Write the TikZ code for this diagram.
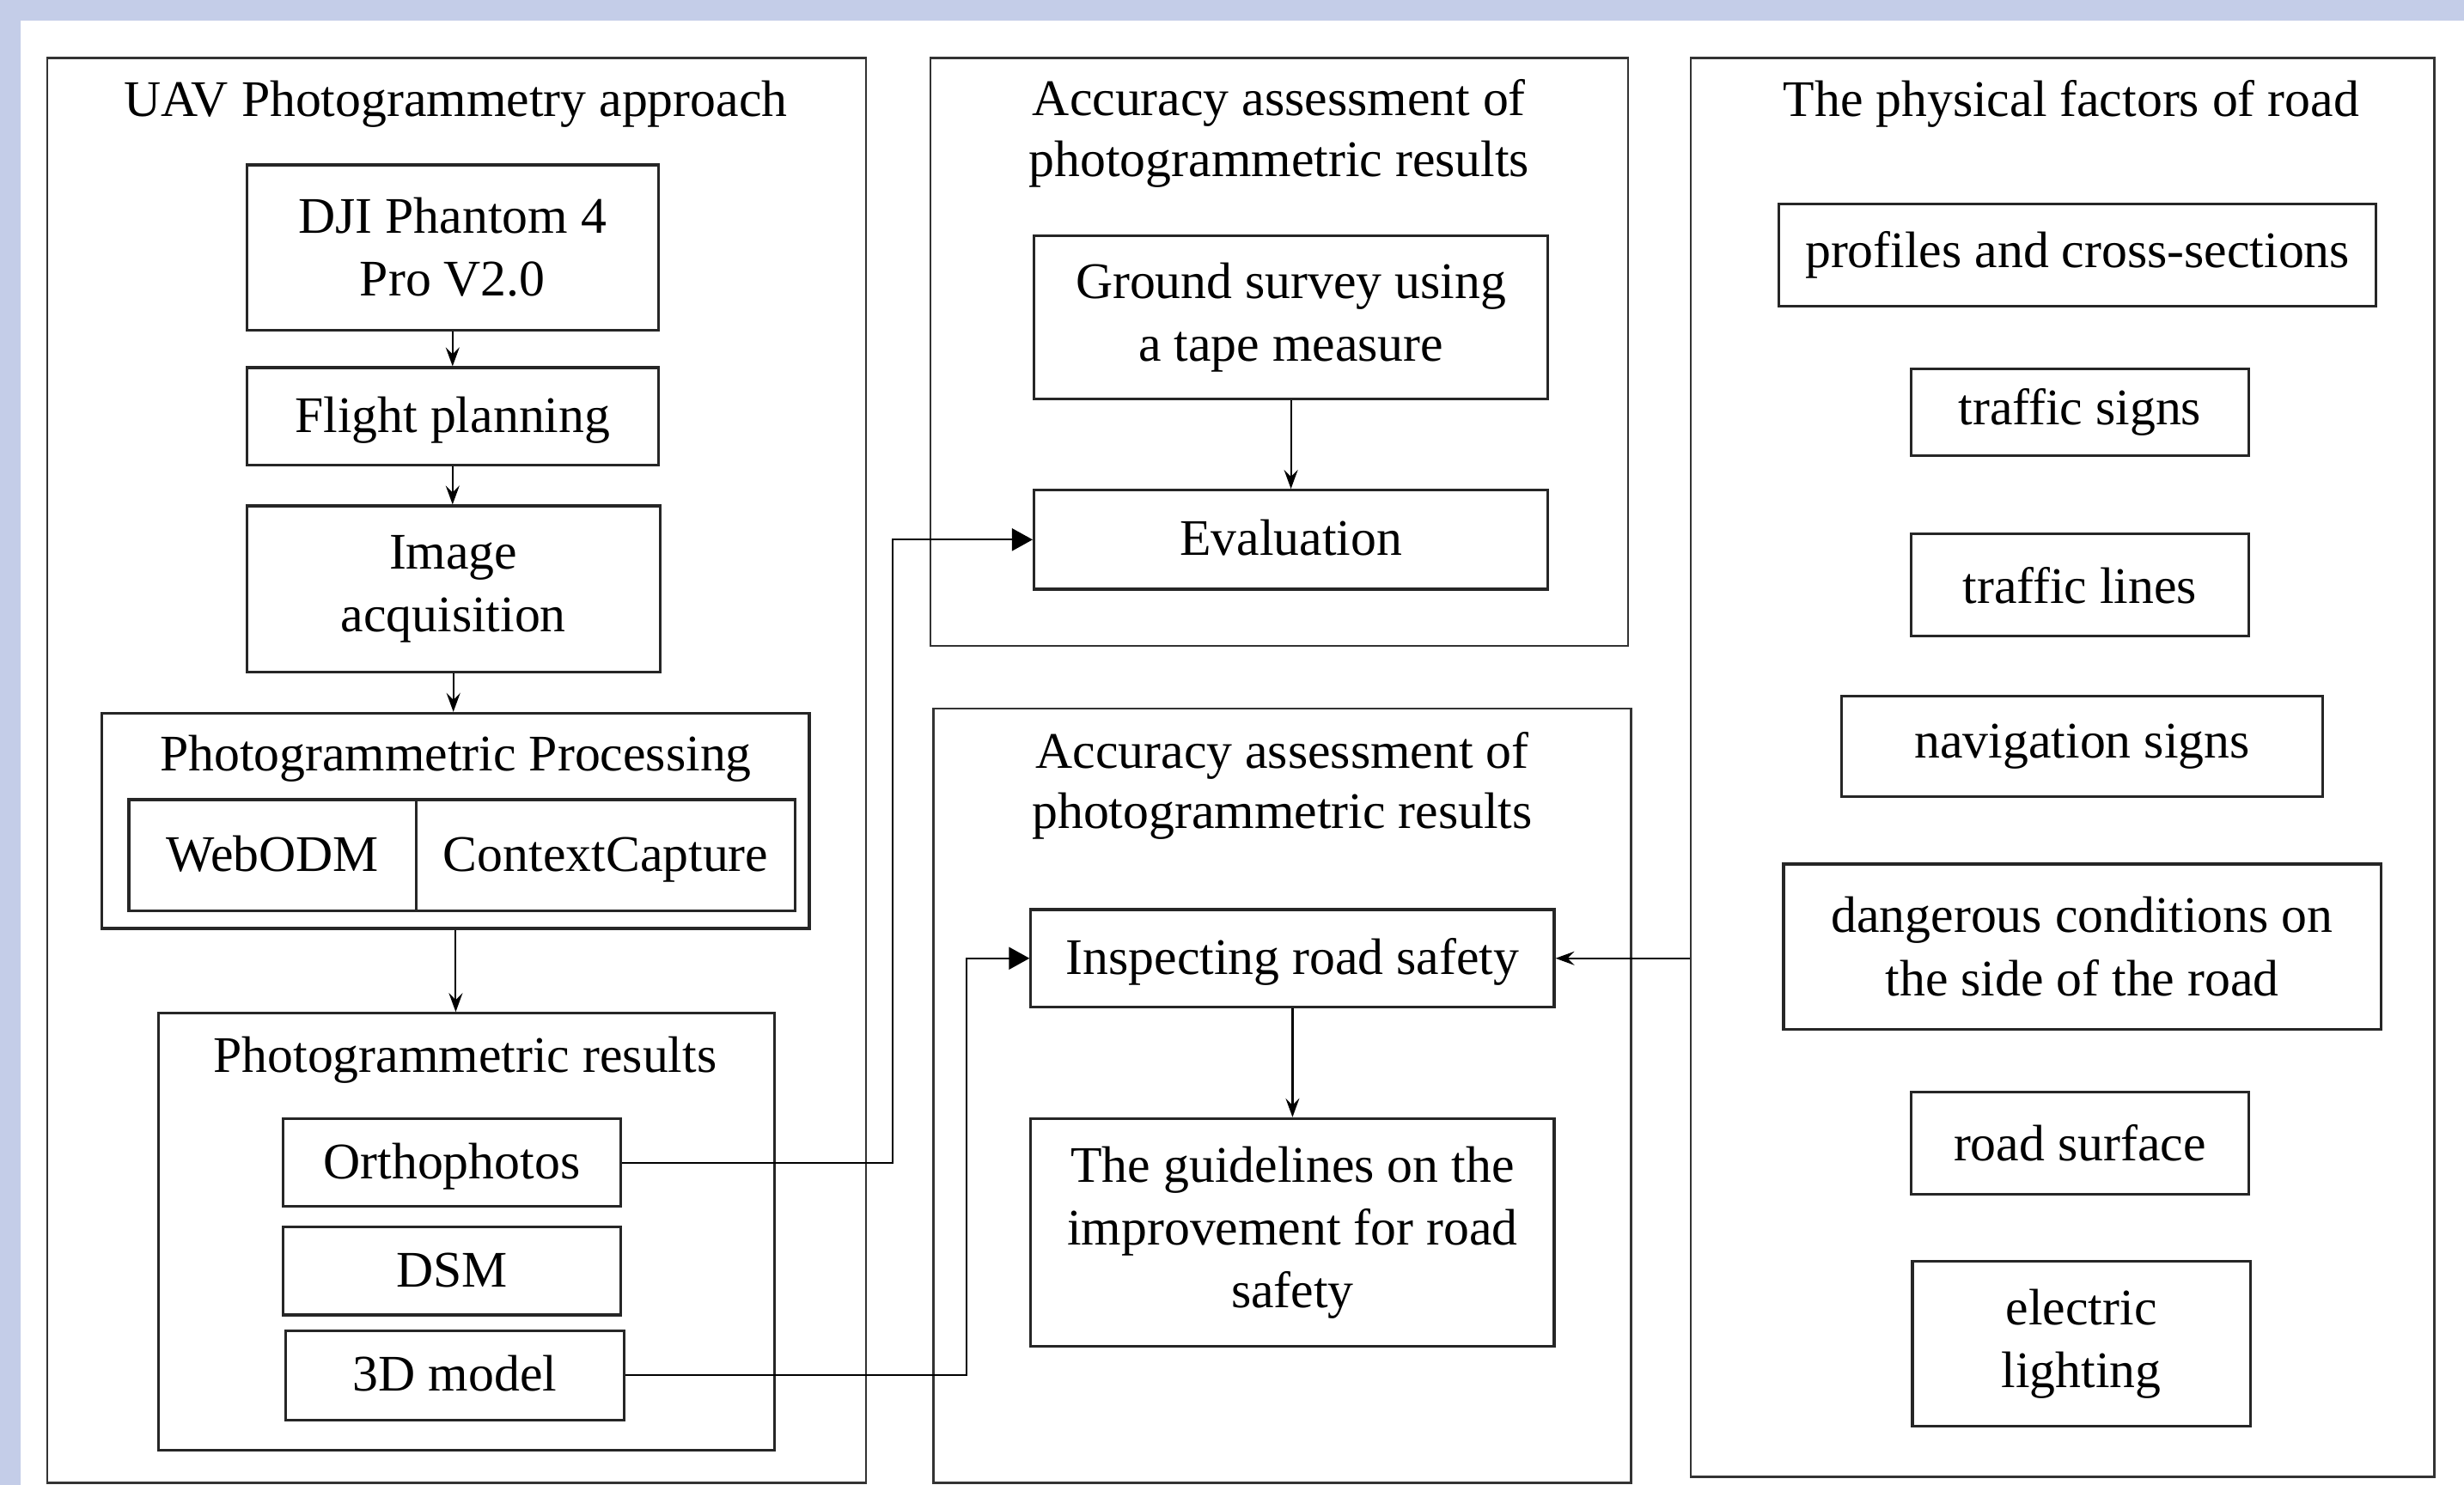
\documentclass[tikz,border=0pt]{standalone}
\usepackage{fontspec}
\setmainfont{Liberation Serif}
\usetikzlibrary{arrows.meta}
\definecolor{framebg}{RGB}{196,205,232}
\newcommand{\pu}{0.1829mm}
\tikzstyle{panel}=[draw=black!80, line width=0.7pt, inner sep=0]
\tikzstyle{box}=[draw=black!85, line width=0.9pt, align=center, inner sep=0, font=\fontsize{17}{20.8}\selectfont]
\tikzstyle{onerow}=[text height=13.5pt, text depth=3pt]
\tikzstyle{txt}=[align=center, inner sep=0, font=\fontsize{17}{20}\selectfont]
\tikzstyle{flow}=[-{Stealth[length=2.2mm,width=1.6mm,inset=0.8mm]}, line width=0.6pt]
\tikzstyle{link}=[-{Triangle[length=2.4mm,width=2.6mm]}, line width=0.6pt]

\begin{document}
\begin{tikzpicture}[x=\pu, y=-\pu]
\useasboundingbox (0,0) rectangle (1568,945);
\fill[framebg] (0,0) rectangle (1568,945);
\fill[white] (13,13) rectangle (1568,945);

\node[panel, minimum width=521*\pu, minimum height=907*\pu] (uav) at (290.5,490.5) {};
\node[txt] (uavtitle) at (290,66) {UAV Photogrammetry approach};
\node[box, minimum width=262*\pu, minimum height=105*\pu] (dji) at (288,157.5) {DJI Phantom 4\\Pro V2.0};
\node[box, onerow, minimum width=262*\pu, minimum height=62*\pu] (flight) at (288,265) {Flight planning};
\node[box, minimum width=263*\pu, minimum height=106*\pu] (image) at (288.5,375) {Image\\acquisition};
\node[box, minimum width=450*\pu, minimum height=137*\pu] (proc) at (290,522.5) {};
\node[txt] (proctitle) at (290,483) {Photogrammetric Processing};
\node[box, onerow, minimum width=183*\pu, minimum height=71*\pu] (webodm) at (173.5,544.5) {WebODM};
\node[box, onerow, minimum width=241*\pu, minimum height=71*\pu] (context) at (385.5,544.5) {ContextCapture};
\node[box, minimum width=392*\pu, minimum height=278*\pu] (results) at (297,784) {};
\node[txt] (restitle) at (296,675) {Photogrammetric results};
\node[box, onerow, minimum width=215*\pu, minimum height=56*\pu] (ortho) at (287.5,740) {Orthophotos};
\node[box, onerow, minimum width=215*\pu, minimum height=56*\pu] (dsm) at (287.5,809) {DSM};
\node[box, onerow, minimum width=215*\pu, minimum height=57*\pu] (model) at (289.5,875.5) {3D model};

\draw[flow] (dji) -- (flight);
\draw[flow] (flight) -- (flight |- image.north);
\draw[flow] (image.south) -- (image.south |- proc.north);
\draw[flow] (proc.south) -- (proc.south |- results.north);

\node[panel, minimum width=444*\pu, minimum height=374*\pu] (acca) at (814,224) {};
\node[txt] (accatitle) at (814,85) {Accuracy assessment of\\photogrammetric results};
\node[box, minimum width=327*\pu, minimum height=104*\pu] (survey) at (821.5,202) {Ground survey using\\a tape measure};
\node[box, onerow, minimum width=327*\pu, minimum height=63*\pu] (eval) at (821.5,343.5) {Evaluation};
\draw[flow] (survey) -- (eval);

\node[panel, minimum width=444*\pu, minimum height=493*\pu] (accb) at (816,697.5) {};
\node[txt] (accbtitle) at (816,500) {Accuracy assessment of\\photogrammetric results};
\node[box, onerow, minimum width=333*\pu, minimum height=62*\pu] (inspect) at (822.5,610) {Inspecting road safety};
\node[box, minimum width=333*\pu, minimum height=145*\pu] (guide) at (822.5,784.5) {The guidelines on the\\improvement for road\\safety};
\draw[flow] (inspect) -- (guide);

\node[panel, minimum width=473*\pu, minimum height=903*\pu] (phys) at (1312.5,488.5) {};
\node[txt] (phystitle) at (1318,66) {The physical factors of road};
\foreach \n/\cx/\cy/\w/\h/\t in {
  prof/1322/162.5/380/65/{profiles and cross-sections},
  tsign/1323.5/262.5/215/55/{traffic signs},
  tline/1323.5/372.5/215/65/{traffic lines},
  nav/1325/475/306/64/{navigation signs},
  danger/1325/602.5/380/105/{dangerous conditions on\\the side of the road},
  surf/1323.5/727.5/215/65/{road surface},
  light/1324.5/855.5/215/105/{electric\\lighting}}
{
\node[box, minimum width=\w*\pu, minimum height=\h*\pu] (\n) at (\cx,\cy) {\t};
}

\coordinate (bendA) at (568,0);
\coordinate (bendB) at (615,0);
\draw[link] (ortho.east) -- (bendA |- ortho.east) -- (bendA |- eval.west) -- (eval.west);
\draw[link] (model.east) -- (bendB |- model.east) -- (bendB |- inspect.west) -- (inspect.west);
\draw[flow] (phys.west |- inspect.east) -- (inspect.east);
\end{tikzpicture}
\end{document}
